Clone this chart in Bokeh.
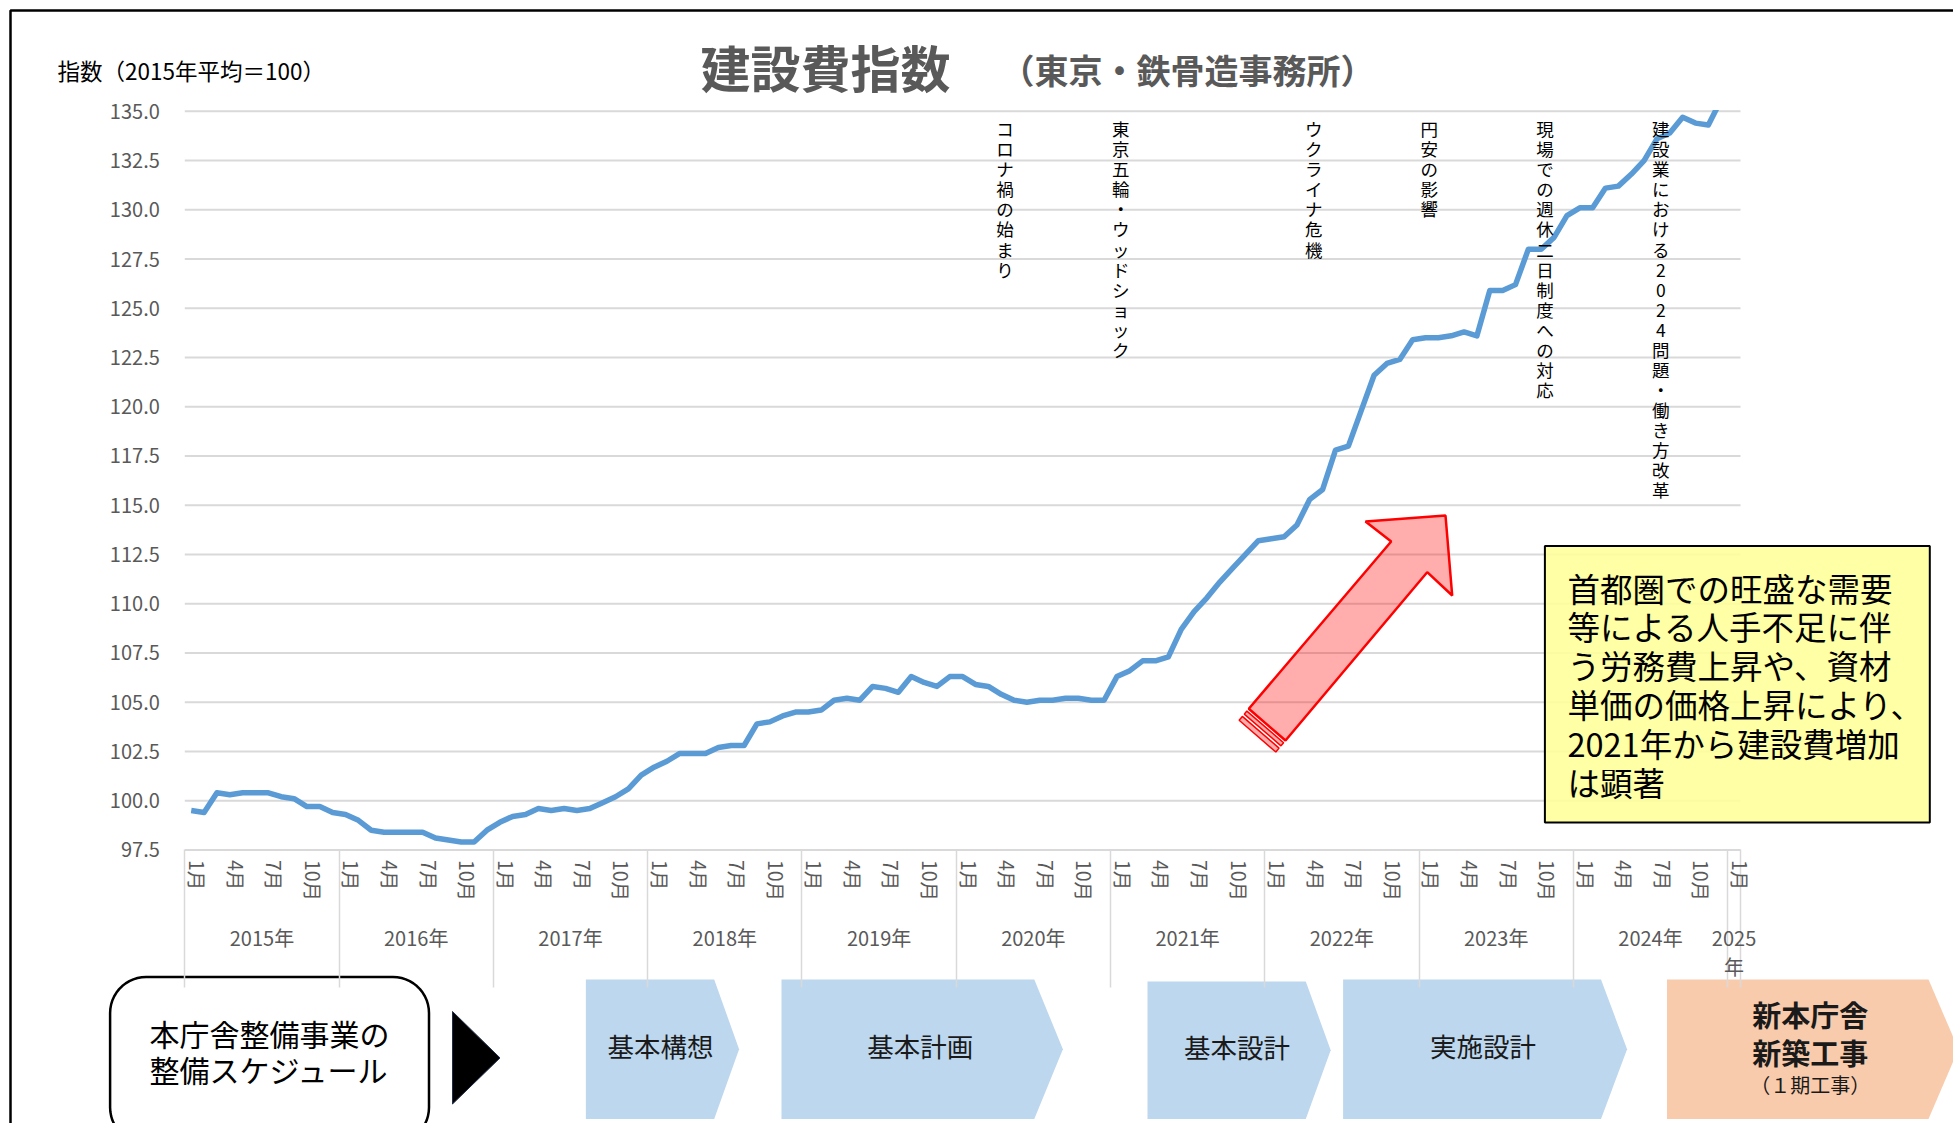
import numpy as np
from bokeh.plotting import figure
from bokeh.models import Range1d, LinearAxis, FixedTicker, NumeralTickFormatter, ColumnDataSource
from bokeh.core.properties import value
from bokeh.embed import file_html
from bokeh.resources import INLINE

# ---------------- data ----------------
years = [2015, 2016, 2017, 2018, 2019, 2020, 2021, 2022, 2023, 2024, 2025]
year_labels = ["2015年", "2016年", "2017年", "2018年", "2019年", "2020年",
               "2021年", "2022年", "2023年", "2024年", "2025\n年"]
labelled_months = [1, 4, 7, 10]
month_labels = ["1月", "4月", "7月", "10月"]

v2015 = [99.5, 99.4, 100.4, 100.3, 100.4, 100.4, 100.4, 100.2, 100.1, 99.7, 99.7, 99.4]
v2016 = [99.3, 99.0, 98.5, 98.4, 98.4, 98.4, 98.4, 98.1, 98.0, 97.9, 97.9, 98.5]
v2017 = [98.9, 99.2, 99.3, 99.6, 99.5, 99.6, 99.5, 99.6, 99.9, 100.2, 100.6, 101.3]
v2018 = [101.7, 102.0, 102.4, 102.4, 102.4, 102.7, 102.8, 102.8, 103.9, 104.0, 104.3, 104.5]
v2019 = [104.5, 104.6, 105.1, 105.2, 105.1, 105.8, 105.7, 105.5, 106.3, 106.0, 105.8, 106.3]
v2020 = [106.3, 105.9, 105.8, 105.4, 105.1, 105.0, 105.1, 105.1, 105.2, 105.2, 105.1, 105.1]
v2021 = [106.3, 106.6, 107.1, 107.1, 107.3, 108.7, 109.6, 110.3, 111.1, 111.8, 112.5, 113.2]
v2022 = [113.3, 113.4, 114.0, 115.3, 115.8, 117.8, 118.0, 119.8, 121.6, 122.2, 122.4, 123.4]
v2023 = [123.5, 123.5, 123.6, 123.8, 123.6, 125.9, 125.9, 126.2, 128.0, 128.0, 128.6, 129.7]
v2024 = [130.1, 130.1, 131.1, 131.2, 131.8, 132.5, 133.6, 133.9, 134.7, 134.4, 134.3, 135.6]
v2025 = [136.2]
series_by_year = [v2015, v2016, v2017, v2018, v2019, v2020, v2021, v2022, v2023, v2024, v2025]

y_ticks = [97.5, 100.0, 102.5, 105.0, 107.5, 110.0, 112.5, 115.0, 117.5,
           120.0, 122.5, 125.0, 127.5, 130.0, 132.5, 135.0]

title_text = "建設費指数"
subtitle_text = "（東京・鉄骨造事務所）"
y_label_text = "指数（2015年平均＝100）"

event_labels = ["コロナ禍の始まり", "東京五輪・ウッドショック", "ウクライナ危機", "円安の影響",
                "現場での週休二日制度への対応", "建設業における2024問題・働き方改革"]
event_dates = [(2020, 4), (2021, 1), (2022, 4), (2023, 1), (2023, 10), (2024, 7)]

note_lines = ["首都圏での旺盛な需要", "等による人手不足に伴", "う労務費上昇や、資材",
              "単価の価格上昇により、", "2021年から建設費増加", "は顕著"]

schedule_intro = ["本庁舎整備事業の", "整備スケジュール"]
phases = ["基本構想", "基本計画", "基本設計", "実施設計"]
final_phase = ["新本庁舎", "新築工事", "（１期工事）"]

# ---------------- derived ----------------
month_year, month_num, values = [], [], []
for y, vals in zip(years, series_by_year):
    for k, v in enumerate(vals):
        month_year.append(y)
        month_num.append(k + 1)
        values.append(v)
n = len(values)
idx = list(range(n))

FONT = "Noto Sans CJK JP"
W, H = 1953, 1123

# chart frame (canvas px)
CH_LEFT, CH_RIGHT = 184.3, 1740.0
CH_TOP, CH_BOT = 110.8, 849.4
sx = (CH_RIGHT - CH_LEFT) / n
m_start = -0.5 - CH_LEFT / sx
m_end = m_start + W / sx
sy = (CH_BOT - CH_TOP) / (y_ticks[-1] - y_ticks[0])
v_top = y_ticks[-1] + CH_TOP / sy
v_bot = y_ticks[0] - (H - CH_BOT) / sy

p = figure(width=W, height=H, x_range=Range1d(0, W), y_range=Range1d(H, 0),
           output_backend="svg", toolbar_location=None,
           x_axis_type=None, y_axis_type=None, min_border=0,
           outline_line_color=None, background_fill_color="white",
           border_fill_color="white")
p.min_border_left = p.min_border_right = p.min_border_top = p.min_border_bottom = 0
p.extra_x_ranges = {"m": Range1d(m_start, m_end)}
p.extra_y_ranges = {"v": Range1d(v_bot, v_top)}
C = dict(x_range_name="m", y_range_name="v")


def txt(x, y, s, size, color="black", style="normal", align="left", baseline="middle", **kw):
    p.text(x=[x], y=[y], text=[s], text_font=value(FONT), text_font_size=f"{size}px",
           text_color=color, text_font_style=style, text_align=align,
           text_baseline=baseline, **kw)


# frame border (page decoration)
p.line([10, 10, W], [H, 10, 10], line_color="black", line_width=2.5)

# gridlines
grid_src = ColumnDataSource(dict(x0=[-0.5] * len(y_ticks), x1=[n - 0.5] * len(y_ticks),
                                 y=y_ticks))
p.segment(x0="x0", x1="x1", y0="y", y1="y", source=grid_src,
          line_color="#d9d9d9", line_width=2, **C)

# yellow note box
p.quad(left=1544.4, right=1929.3, top=545.5, bottom=822, fill_color="#ffff99",
       fill_alpha=0.88, line_color="black", line_width=2)
for k, s in enumerate(note_lines):
    txt(1567, 586.5 + k * 38.9, s, 32.5)

# red arrow
A = np.array([1248.3, 708.3]); B = np.array([1285.0, 740.0])
G = (1390.7, 541.0); F = (1365.0, 521.0); E = (1445.0, 515.0)
D = (1451.7, 595.0); Cc = (1426.7, 571.7)
pts = [tuple(A), G, F, E, D, Cc, tuple(B)]
p.patch([q[0] for q in pts], [q[1] for q in pts], fill_color="red", fill_alpha=0.32,
        line_color="red", line_width=2.5)
u = np.array([0.645, -0.764])
for o1, o2 in [(3.0, 7.0), (10.0, 15.0)]:
    a1, b1, b2, a2 = A - u * o1, B - u * o1, B - u * o2, A - u * o2
    p.patch([a1[0], b1[0], b2[0], a2[0]], [a1[1], b1[1], b2[1], a2[1]],
            fill_color="red", fill_alpha=0.32, line_color="red", line_width=1.5)

# index line
p.line(x=idx, y=values, line_color="#5b9bd5", line_width=5.5, line_join="round", **C)
# axis max clipping (as in the original, values above 135 leave the plot)
p.quad(left=n - 4.5, right=n + 0.5, bottom=y_ticks[-1] + 0.06, top=y_ticks[-1] + 2,
       fill_color="white", line_color=None, **C)

# event annotations (vertical text)
ev_x = [(y - years[0]) * 12 + (m - 1) + 0.3 for y, m in event_dates]
ev_src = ColumnDataSource(dict(x=ev_x, y=[134.75] * len(ev_x),
                               t=["\n".join(list(s)) for s in event_labels]))
p.text(x="x", y="y", text="t", source=ev_src, text_font=value(FONT),
       text_font_size="17.5px", text_color="black", text_align="center",
       text_baseline="top", text_line_height=0.802, **C)

# y axis
yax = LinearAxis(fixed_location=-0.5, ticker=FixedTicker(ticks=y_ticks, minor_ticks=[]),
                 formatter=NumeralTickFormatter(format="0.0"), **C)
yax.axis_line_color = None
yax.major_tick_line_color = None
yax.minor_tick_line_color = None
yax.major_tick_out = 0
yax.major_tick_in = 0
yax.major_label_standoff = 25
yax.major_label_text_font = FONT
yax.major_label_text_font_size = "20px"
yax.major_label_text_color = "#595959"
p.add_layout(yax, "left")

# month labels (drawn slightly right of the month centre, as in the original)
m_ticks = [i + 0.5 for i in idx if month_num[i] in labelled_months]
m_over = {t: month_labels[labelled_months.index(month_num[int(t - 0.5)])] for t in m_ticks}
max_ = LinearAxis(fixed_location=y_ticks[0], ticker=FixedTicker(ticks=m_ticks, minor_ticks=[]),
                  major_label_overrides=m_over, major_label_orientation="vertical", **C)
# year labels
yr_pos = [float(np.mean([i for i in idx if month_year[i] == y])) for y in years]
yr_over = {pos: lab for pos, lab in zip(yr_pos, year_labels)}
yax2 = LinearAxis(fixed_location=y_ticks[0], ticker=FixedTicker(ticks=yr_pos, minor_ticks=[]),
                  major_label_overrides=yr_over, **C)
# year separators
bounds = [i - 0.5 for i in idx if month_num[i] == 1] + [n - 0.5]
sep = LinearAxis(fixed_location=y_ticks[0], ticker=FixedTicker(ticks=bounds, minor_ticks=[]), **C)

for ax in (max_, yax2, sep):
    ax.axis_line_color = None
    ax.minor_tick_line_color = None
    ax.major_tick_in = 0
    ax.major_label_text_font = FONT
    ax.major_label_text_color = "#595959"
max_.major_tick_out = 0
max_.major_tick_line_color = None
max_.major_label_standoff = 10
max_.major_label_text_font_size = "19.5px"
yax2.major_tick_out = 0
yax2.major_tick_line_color = None
yax2.major_label_standoff = 73
yax2.major_label_text_font_size = "20px"
yax2.major_label_text_line_height = 1.0
sep.major_tick_out = 138
sep.major_tick_line_color = "#d9d9d9"
sep.major_tick_line_width = 1.5
sep.major_label_text_color = None
sep.major_label_text_font_size = "1px"
for ax in (sep, max_, yax2):
    p.add_layout(ax, "below")

# titles
txt(700, 65, title_text, 50, color="#595959", style="bold")
txt(1000, 69, subtitle_text, 34, color="#595959", style="bold")
txt(57, 69, y_label_text, 22.5, color="black")

# ---------------- schedule ----------------
def rounded_rect(x0, y0, x1, y1, r, k=14):
    xs, ys = [], []
    for cx, cy, a0, a1 in [(x1 - r, y0 + r, -90, 0), (x1 - r, y1 - r, 0, 90),
                           (x0 + r, y1 - r, 90, 180), (x0 + r, y0 + r, 180, 270)]:
        for a in np.linspace(np.radians(a0), np.radians(a1), k):
            xs.append(cx + r * np.cos(a)); ys.append(cy + r * np.sin(a))
    return xs, ys

rx, ry = rounded_rect(109.6, 976.5, 428.5, 1143, 36)
p.patch(rx, ry, fill_color="white", line_color="black", line_width=2.5)
for k, s in enumerate(schedule_intro):
    txt(269, 1032.5 + k * 36.1, s, 30, align="center")

p.patch([452, 452, 499.5], [1011, 1103.5, 1057.4], fill_color="black", line_color="#1f2d4a",
        line_width=1)

def chevron(left, corner, tip, top, bottom):
    mid = (top + bottom) / 2
    return [left, corner, tip, corner, left], [top, top, mid, bottom, bottom]

chev = [(585.4, 713.7, 738.6, 979.0), (781.0, 1033.8, 1062.4, 979.0),
        (1147.0, 1305.3, 1330.2, 981.0), (1342.6, 1600.5, 1626.6, 979.0)]
for (l, c, t, top), name in zip(chev, phases):
    xs, ys = chevron(l, c, t, top, 1118.5)
    p.patch(xs, ys, fill_color="#bdd7ee", line_color=None)
    txt((l + t) / 2 - 2, (top + 1118.5) / 2 - 4, name, 26.5, color="#1a1a1a", align="center")

xs, ys = chevron(1666.5, 1928.0, 1958.0, 979.0, 1118.5)
p.patch(xs, ys, fill_color="#f8cbad", line_color=None)
txt(1809.7, 1013.8, final_phase[0], 29, style="bold", align="center", color="#1a1a1a")
txt(1809.7, 1051.2, final_phase[1], 29, style="bold", align="center", color="#1a1a1a")
txt(1809.7, 1083.6, final_phase[2], 20, align="center", color="#1a1a1a")

open("out.html", "w").write(file_html(p, INLINE))
